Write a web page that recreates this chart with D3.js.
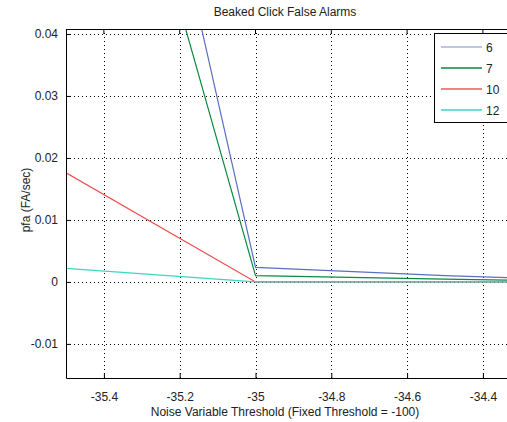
<!DOCTYPE html>
<html><head><meta charset="utf-8">
<script src="https://cdn.jsdelivr.net/npm/d3@7"></script>
<style>body{margin:0;background:#fff}svg{display:block}text{font-family:"Liberation Sans",Arial,sans-serif;fill:#222}</style>
</head><body>
<script>
const title = "Beaked Click False Alarms";
const xLabel = "Noise Variable Threshold (Fixed Threshold = -100)";
const yLabel = "pfa (FA/sec)";
const xValues = [-35.5, -35, -34.5, -34];
const seriesNames = ["6", "7", "10", "12"];
const seriesColors = ["#5a70c0", "#0b8a40", "#f04848", "#3fd4c4"];
const s6 = [0.1377, 0.00234, 0.001, 0.0001];
const s7 = [0.109, 0.001, 0.00045, 0.0];
const s10 = [0.0176, 0, 0, 0];
const s12 = [0.0022, 0, 0, 0];
const xTicks = [-35.4, -35.2, -35, -34.8, -34.6, -34.4];
const yTicks = [-0.01, 0, 0.01, 0.02, 0.03, 0.04];
const xTickLabels = ["-35.4", "-35.2", "-35", "-34.8", "-34.6", "-34.4"];
const yTickLabels = ["-0.01", "0", "0.01", "0.02", "0.03", "0.04"];

const W = 507, H = 422;
const L = 66, R = 508, T = 29, B = 378;
const svg = d3.select("body").append("svg").attr("width", W).attr("height", H);
const x = d3.scaleLinear().domain([-35.5, -35.5 + (R - L) / 379]).range([L, R]);
const y = d3.scaleLinear().domain([-0.0155, 0.0408]).range([B, T]);

svg.append("clipPath").attr("id","c").append("rect").attr("x",L).attr("y",T).attr("width",R-L).attr("height",B-T);

// grid
const g = svg.append("g");
g.selectAll(".vg").data(xTicks).enter().append("line")
  .attr("x1", d => Math.round(x(d)) + 0.5).attr("x2", d => Math.round(x(d)) + 0.5)
  .attr("y1", T).attr("y2", B).attr("stroke", "#000").attr("stroke-width", 1).attr("stroke-dasharray", "1,3");
g.selectAll(".hg").data(yTicks).enter().append("line")
  .attr("y1", d => Math.round(y(d)) + 0.5).attr("y2", d => Math.round(y(d)) + 0.5)
  .attr("x1", L).attr("x2", R).attr("stroke", "#000").attr("stroke-width", 1).attr("stroke-dasharray", "1,3");

// lines
const series = [s6, s7, s10, s12];
const line = d3.line().x((d, i) => x(xValues[i])).y(d => y(d));
svg.append("g").attr("clip-path", "url(#c)").selectAll("path").data(series).enter().append("path")
  .attr("d", d => line(d)).attr("fill", "none")
  .attr("stroke", (d, i) => seriesColors[i]).attr("stroke-width", 1.2);

// axes
const xa = svg.append("g").attr("transform", `translate(0,${B})`)
  .call(d3.axisBottom(x).tickValues(xTicks).tickSizeInner(-5).tickSizeOuter(0).tickPadding(14).tickFormat((d, i) => xTickLabels[i]));
const ya = svg.append("g").attr("transform", `translate(${L},0)`)
  .call(d3.axisLeft(y).tickValues(yTicks).tickSizeInner(-5).tickSizeOuter(0).tickPadding(8).tickFormat((d, i) => yTickLabels[i]));
[xa, ya].forEach(a => {
  a.select(".domain").attr("stroke", "#000");
  a.selectAll(".tick line").attr("stroke", "#000");
  a.selectAll("text").attr("font-size", 12).attr("fill", "#222").attr("font-family", "Liberation Sans, Arial, sans-serif");
});
// top border
svg.append("line").attr("x1", L).attr("x2", R).attr("y1", T + 0.5).attr("y2", T + 0.5).attr("stroke", "#000");
svg.selectAll(".tt").data(xTicks).enter().append("line")
  .attr("x1", d => x(d)).attr("x2", d => x(d)).attr("y1", T).attr("y2", T + 5).attr("stroke", "#000");

// title and labels
svg.append("text").attr("x", 285).attr("y", 16).attr("text-anchor", "middle").attr("font-size", 12).text(title);
svg.append("text").attr("x", 285).attr("y", 416).attr("text-anchor", "middle").attr("font-size", 12).text(xLabel);
svg.append("text").attr("transform", "translate(30,200) rotate(-90)").attr("text-anchor", "middle").attr("font-size", 12).text(yLabel);

// legend
const lg = svg.append("g");
lg.append("rect").attr("x", 434.5).attr("y", 33.5).attr("width", 80).attr("height", 89).attr("fill", "#fff").attr("stroke", "#000");
const legendColors = ["#a9b6dc", "#0b8a40", "#f05858", "#3fd4c4"];
seriesNames.forEach((n, i) => {
  const yy = 47 + i * 21;
  lg.append("line").attr("x1", 441).attr("x2", 482).attr("y1", yy).attr("y2", yy).attr("stroke", legendColors[i]).attr("stroke-width", 1.5);
  lg.append("text").attr("x", 486).attr("y", yy + 4.5).attr("font-size", 12).text(n);
});
</script>
</body></html>
